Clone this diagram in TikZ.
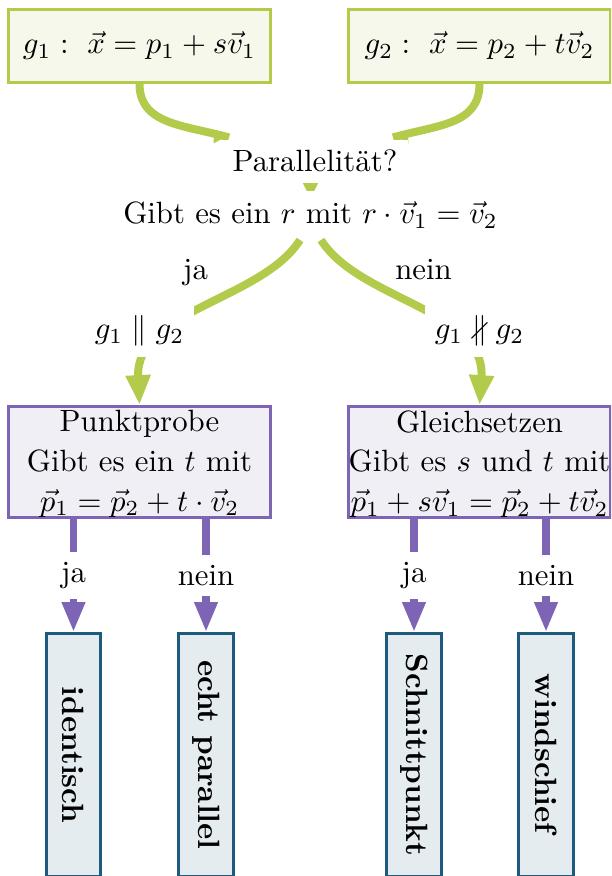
\documentclass[tikz,border=0pt]{standalone}
\usepackage{amssymb}
\usepackage{fontspec}
\usetikzlibrary{arrows.meta,backgrounds}
\definecolor{lgreen}{HTML}{B3CB4B}
\definecolor{gfill}{HTML}{F7F8EC}
\definecolor{lpurple}{HTML}{7E64B4}
\definecolor{pfill}{HTML}{F0EFF6}
\definecolor{dblue}{HTML}{1D5A7E}
\definecolor{bfill}{HTML}{E4ECF0}
\begin{document}
\begin{tikzpicture}[x=0.325pt,y=-0.325pt,
  gbox/.style={draw=lgreen,fill=gfill,line width=0.95pt,minimum width=85.2pt,minimum height=23.7pt,inner sep=0pt},
  pbox/.style={draw=lpurple,fill=pfill,line width=0.95pt,minimum width=85.2pt,minimum height=36.1pt,inner sep=0pt},
  bbox/.style={draw=dblue,fill=bfill,line width=0.95pt,minimum width=17.7pt,minimum height=79pt,inner sep=0pt},
  tnode/.style={fill=white,anchor=base},
  plain/.style={anchor=base},
  gline/.style={draw=lgreen,line width=2.6pt},
  barb/.style={fill=lgreen},
  pline/.style={draw=lpurple,line width=2.3pt,-{Triangle[length=9.7pt,width=7.1pt]}},
  lbl/.style={fill=white}]
\useasboundingbox (0,0) rectangle (611,876);
\clip (0,0) rectangle (611,876);
% boxes
\node[gbox] (tl) at (139.5,46) {$g_1:\ \vec{x}=p_1+s\vec{v}_1$};
\node[gbox] (tr) at (479.5,46) {$g_2:\ \vec{x}=p_2+t\vec{v}_2$};
\node[pbox] (pp) at (139.5,462) {};
\node[pbox] (gs) at (479.5,462) {};
\node[align=center] (pptext) at ([yshift=-0.6pt]pp.center) {Punktprobe\\[0.9pt]Gibt es ein $t$ mit\\[0.9pt]$\vec{p}_1=\vec{p}_2+t\cdot\vec{v}_2$};
\node[align=center] (gstext) at ([yshift=-0.6pt]gs.center) {Gleichsetzen\\[0.9pt]Gibt es $s$ und $t$ mit\\[0.9pt]$\vec{p}_1+s\vec{v}_1=\vec{p}_2+t\vec{v}_2$};
\node[bbox] (b1) at (73.5,755) {};
\node[bbox] (b2) at (206,755) {};
\node[bbox] (b3) at (414,755) {};
\node[bbox] (b4) at (546,755) {};
\node[rotate=-90] (t1) at (b1.center) {\textbf{identisch}};
\node[rotate=-90] (t2) at (b2.center) {\textbf{echt parallel}};
\node[rotate=-90] (t3) at (b3.center) {\textbf{Schnittpunkt}};
\node[rotate=-90] (t4) at (b4.center) {\textbf{windschief}};
% text nodes
\node[tnode] (par) at (315,172) {Parallelität?};
\node[tnode] (gib) at (310.5,223.5) {Gibt es ein $r$ mit $r\cdot\vec{v}_1=\vec{v}_2$};
\node[tnode] (gp) at (139.5,339) {$g_1\parallel g_2$};
\node[tnode] (gnp) at (479.5,339) {$g_1\nparallel g_2$};
\node[plain] (ja0) at (195.5,280) {ja};
\node[plain] (nein0) at (423.5,280) {nein};
\coordinate (tipL) at (229,137.5);
\coordinate (tipR) at (393,137.5);
\coordinate (sL) at (300,240);
\coordinate (sR) at (321,240);
% connectors
\begin{scope}[on background layer]
\draw[gline] (tl.south) .. controls (139.5,125) and (185,125) .. (tipL);
\fill[barb] (214,136.5) -- (213.5,143.5) -- (230.5,134) -- cycle;
\draw[gline] (tr.south) .. controls (479.5,125) and (437,125) .. (tipR);
\fill[barb] (408,136.5) -- (408.5,143.5) -- (391.5,134) -- cycle;
\draw[gline,-{Triangle[length=5.5pt,width=4.9pt]}] (gib.north |- par.center) -- ([yshift=-2.7pt]gib.north);
\draw[gline,-{Triangle[length=9.7pt,width=7.6pt]}] (sL) .. controls (262,300) and (135,310) .. (pp.north);
\draw[gline,-{Triangle[length=9.7pt,width=7.6pt]}] (sR) .. controls (359,300) and (486,310) .. (gs.north);
\end{scope}
\draw[pline] (b1 |- pp.south) -- node[lbl] (l1) {ja} (b1.north);
\draw[pline] (b2 |- pp.south) -- node[lbl] (l2) {nein} (b2.north);
\draw[pline] (b3 |- gs.south) -- node[lbl] (l3) {ja} (b3.north);
\draw[pline] (b4 |- gs.south) -- node[lbl] (l4) {nein} (b4.north);
\end{tikzpicture}
\end{document}
